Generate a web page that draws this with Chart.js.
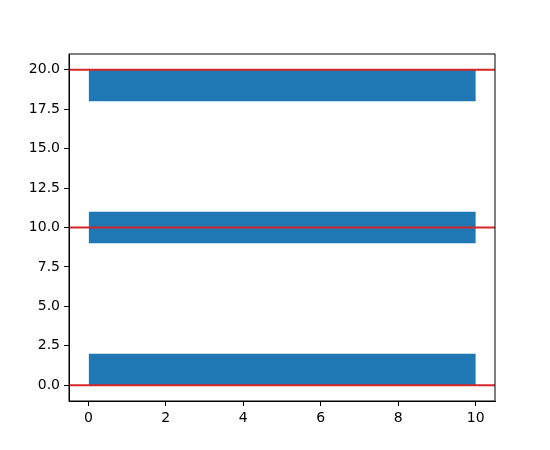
<!DOCTYPE html>
<html>
<head>
<meta charset="utf-8">
<script src="https://cdn.jsdelivr.net/npm/chart.js@4/dist/chart.umd.min.js"></script>
<style>
  body { margin: 0; background: #fff; }
</style>
</head>
<body>
<canvas id="barChart" width="550" height="450"></canvas>
<script>
// bar centres, heights and lengths (barh style)
const barCenters = [1, 10, 19];
const barHeights = [2, 2, 2];
const barLeft = [0, 0, 0];
const barWidths = [10, 10, 10];

// horizontal reference lines
const hLines = [0, 10, 20];

const xTicks = [0, 2, 4, 6, 8, 10];
const yTicks = [0, 2.5, 5, 7.5, 10, 12.5, 15, 17.5, 20];
const xRange = [-0.5, 10.5];
const yRange = [-1, 21];

// chart.js sizes bars from the smallest spacing among bar centres and ticks
const gap = Math.min(barCenters[1] - barCenters[0], yTicks[1] - yTicks[0]);

const barData = barCenters.map((c, i) => ({ y: c, x: [barLeft[i], barLeft[i] + barWidths[i]] }));

const lineSets = hLines.map(v => ({
    type: 'line',
    data: [{ x: xRange[0], y: v }, { x: xRange[1], y: v }],
    borderColor: '#d62728',
    borderWidth: 2,
    pointRadius: 0,
    fill: false,
    order: 0,
}));

// frame around the plot area like matplotlib spines
const frame = {
    id: 'frame',
    afterDraw(chart) {
        const { ctx, chartArea: a } = chart;
        ctx.save();
        ctx.strokeStyle = '#000';
        ctx.lineWidth = 1;
        ctx.strokeRect(a.left, a.top, a.right - a.left, a.bottom - a.top);
        ctx.restore();
    }
};

const ctx = document.getElementById('barChart').getContext('2d');
new Chart(ctx, {
    type: 'bar',
    data: {
        datasets: [
            {
                data: barData,
                backgroundColor: '#1f77b4',
                borderWidth: 0,
                barPercentage: 1,
                categoryPercentage: barHeights[0] / gap,
                order: 1,
            },
            ...lineSets,
        ],
    },
    options: {
        indexAxis: 'y',
        responsive: false,
        animation: false,
        layout: { padding: { left: 0, right: 55, top: 54, bottom: 17 } },
        plugins: {
            legend: { display: false },
            tooltip: { enabled: false },
        },
        scales: {
            x: {
                type: 'linear',
                min: xRange[0],
                max: xRange[1],
                offset: false,
                afterBuildTicks: s => { s.ticks = xTicks.map(v => ({ value: v })); },
                afterFit: s => { s.height = 32; },
                grid: { drawOnChartArea: false, offset: false, tickLength: 5, tickColor: '#000' },
                border: { color: '#000' },
                ticks: {
                    color: '#000',
                    padding: 4,
                    maxRotation: 0,
                    font: { family: 'DejaVu Sans', size: 14 },
                    callback: v => String(v),
                },
            },
            y: {
                type: 'linear',
                min: yRange[0],
                max: yRange[1],
                offset: false,
                afterBuildTicks: s => { s.ticks = yTicks.map(v => ({ value: v })); },
                afterFit: s => { s.width = 69; },
                grid: { drawOnChartArea: false, offset: false, tickLength: 5, tickColor: '#000' },
                border: { color: '#000' },
                ticks: {
                    color: '#000',
                    padding: 4,
                    font: { family: 'DejaVu Sans', size: 14 },
                    callback: v => v.toFixed(1),
                },
            },
        },
    },
    plugins: [frame],
});
</script>
</body>
</html>
